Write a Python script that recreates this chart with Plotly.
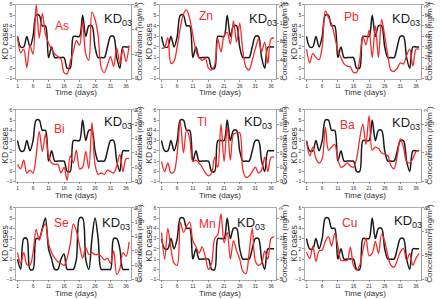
import plotly.graph_objects as go

days = list(range(1, 38))
x_tick_vals = [1, 6, 11, 16, 21, 26, 31, 36]

# KD cases (KD03) - black line, left axis
kd03 = [3, 2, 2, 3, 2, 3, 5, 5, 4, 4, 1, 2, 1, 1, 1, 1, 0, 0, 3, 3,
        3, 5, 3, 4, 4, 2, 1, 1, 1, 2, 3, 3, 1, 0, 2, 2, 2]
kd03_se = [1, 0, 3, 3, 0, 0, 3, 3, 4, 5, 2, 1, 0, 0, 1, 1.5, 0, 0, 0, 1,
           5, 5, 1, 0, 3, 5, 3, 0, 0, 0, 0, 3, 3, 2, 0, 0, 0]

# Concentrations (ng/m3) - red line, right axis
as_conc = [3.4, 2.1, 2.4, 0.9, 2.7, 2.0, 6.0, 3.3, 5.3, 3.6, 2.9, 2.4, 2.0, 1.8, 1.6, 0.5, 0.4, 1.4, 2.2, 3.1,
           2.7, 4.6, 2.0, 1.5, 5.4, 4.8, 3.5, 0.9, 0.5, 1.1, 1.8, 1.0, 2.5, 1.2, 2.4, 1.4, 2.7]
zn_conc = [65, 68, 89, 33, 38, 70, 110, 140, 148, 130, 95, 60, 45, 40, 44, 23, 19, 30, 86, 58,
           93, 100, 75, 125, 79, 120, 60, 25, 19, 40, 65, 86, 58, 79, 33, 86, 88]
pb_conc = [28, 15, 24, 20, 18, 30, 64, 58, 52, 40, 27, 20, 14, 12, 11, 6, 6, 18, 40, 32,
           46, 20, 50, 20, 56, 40, 22, 8, 7, 10, 15, 14, 22, 28, 12, 28, 28]
bi_conc = [0.6, 0.45, 0.75, 0.3, 0.4, 0.3, 0.9, 1.75, 1.05, 1.65, 0.9, 0.65, 0.6, 0.6, 0.3, 0.5, 0.05, 0.9, 0.65, 1.1,
           0.45, 0.5, 1.05, 0.45, 2.05, 0.6, 0.25, 0.3, 0.25, 0.4, 0.35, 0.3, 0.55, 0.95, 0.35, 0.8, 0.8]
tl_conc = [0.14, 0.07, 0.13, 0.06, 0.07, 0.2, 0.42, 0.2, 0.36, 0.3, 0.14, 0.15, 0.13, 0.1, 0.06, 0.04, 0.06, 0.17, 0.1, 0.4,
           0.14, 0.38, 0.15, 0.33, 0.34, 0.34, 0.08, 0.03, 0.04, 0.07, 0.1, 0.06, 0.08, 0.17, 0.07, 0.17, 0.17]
ba_conc = [14, 9, 12, 8, 6.5, 8, 19, 11, 12, 13, 8, 5, 5.5, 6.5, 5.5, 5, 8, 15, 20, 13,
           23, 11, 12, 11.5, 10, 9.5, 9, 5.5, 4.5, 9, 15, 12, 7, 6.5, 8, 10.5, 11]
se_conc = [0.75, 0.45, 0.75, 0.42, 0.4, 0.75, 1.4, 1.1, 1.4, 1.55, 1.0, 0.75, 0.6, 0.5, 0.45, 0.4, 0.6, 1.0, 1.55, 1.35,
           0.95, 0.6, 0.9, 0.7, 0.75, 0.7, 0.7, 0.65, 0.55, 0.6, 0.45, 0.8, 0.15, 0.3, 0.75, 0.65, 1.05]
mn_conc = [28, 15, 30, 20, 13, 12, 33, 28, 31, 33, 24, 21, 18, 21, 16, 10, 13, 25, 27, 37,
           23, 28, 15, 24, 19, 15, 9, 8, 18, 30, 14, 12, 13, 19, 15, 25, 26]
cu_conc = [5.8, 4.4, 7.0, 3.8, 6.0, 6.2, 8.0, 9.0, 7.0, 9.6, 7.0, 4.0, 4.0, 4.0, 6.8, 3.0, 2.0, 3.0, 6.0, 8.6,
           5.0, 5.5, 8.0, 5.5, 9.5, 8.0, 5.0, 3.0, 2.6, 4.0, 5.8, 6.5, 4.0, 5.5, 3.0, 4.5, 5.5]

elements = ["As", "Zn", "Pb", "Bi", "Tl", "Ba", "Se", "Mn", "Cu"]
conc_series = [as_conc, zn_conc, pb_conc, bi_conc, tl_conc, ba_conc, se_conc, mn_conc, cu_conc]
kd_series = [kd03, kd03, kd03, kd03, kd03, kd03, kd03_se, kd03, kd03]
right_ticks = [
    [0, 2, 4, 6],
    [0, 40, 80, 120, 160],
    [0, 10, 20, 30, 40, 50, 60, 70],
    [0.0, 0.5, 1.0, 1.5, 2.0, 2.5],
    [0.0, 0.1, 0.2, 0.3, 0.4, 0.5],
    [0, 10, 20],
    [0.0, 0.4, 0.8, 1.2, 1.6, 2.0],
    [5, 15, 25, 35],
    [0, 5, 10, 15],
]
right_ranges = [[0, 6], [0, 160], [0, 70], [0, 2.5], [0, 0.5], [0, 25], [0, 2.0], [5, 40], [0, 15]]
right_fmt = ["", "", "", ".1f", ".1f", "", ".1f", "", ""]

W, H = 440, 299
col_x = [(16, 131), (160, 276), (305, 421)]
row_y = [(1.7, 77.3), (109, 182.3), (209, 282.3)]
el_off = [(37, 22), (37, 12), (37, 13), (36, 20), (35, 12), (33, 15), (36, 15), (37, 17), (35, 15)]
kd_off = [(86, 15), (87, 15), (85, 15), (86, 13), (82, 13), (85, 14), (84, 16), (75, 16), (87, 14)]

FONT = "Arial, Liberation Sans, sans-serif"
BLACK = "#1a1a1a"
RED = "#f42a2a"
AX = "#9a9a9a"

fig = go.Figure()
layout = dict(width=W, height=H, margin=dict(l=0, r=0, t=0, b=0), autosize=False,
              paper_bgcolor="white", plot_bgcolor="white", showlegend=False,
              font=dict(family=FONT, color="#333"))
annotations = []

def px(x):
    return x / W

def py(y):
    return 1 - y / H

for i in range(9):
    r, c = divmod(i, 3)
    x0, x1 = col_x[c]
    y0, y1 = row_y[r]
    k = i + 1
    xa = "x" if k == 1 else f"x{k}"
    yl_n = 2 * i + 1
    yr_n = 2 * i + 2
    yl = "y" if yl_n == 1 else f"y{yl_n}"
    yr = f"y{yr_n}"
    xkey = "xaxis" if k == 1 else f"xaxis{k}"
    ylkey = "yaxis" if yl_n == 1 else f"yaxis{yl_n}"
    yrkey = f"yaxis{yr_n}"

    fig.add_trace(go.Scatter(x=days, y=kd_series[i], mode="lines", xaxis=xa, yaxis=yl,
                             line=dict(color=BLACK, width=1.5, shape="spline", smoothing=0.9),
                             hoverinfo="skip"))
    fig.add_trace(go.Scatter(x=days, y=conc_series[i], mode="lines", xaxis=xa, yaxis=yr,
                             line=dict(color=RED, width=1.3, shape="spline", smoothing=0.9),
                             hoverinfo="skip"))

    common = dict(showline=True, linecolor=AX, linewidth=0.8, ticks="outside", ticklen=2,
                  tickwidth=0.6, tickcolor="#555", showgrid=False, zeroline=False,
                  tickfont=dict(size=5, color="#333", family=FONT))
    layout[xkey] = dict(domain=[px(x0), px(x1)], anchor=yl, range=[0.5, 37.6],
                        tickvals=x_tick_vals, mirror=True, **common)
    layout[ylkey] = dict(domain=[py(y1), py(y0)], anchor=xa, range=[-1, 6],
                         tickvals=[-1, 0, 1, 2, 3, 4, 5, 6], mirror=True, **common)
    layout[yrkey] = dict(overlaying=yl, side="right", anchor=xa, range=right_ranges[i],
                         tickvals=right_ticks[i], tickformat=right_fmt[i], **common)

    ex, ey = el_off[i]
    annotations.append(dict(x=px(x0 + ex), y=py(y0 + ey), xref="paper", yref="paper",
                            text=elements[i], showarrow=False, xanchor="left", yanchor="middle",
                            font=dict(size=12, color=RED, family=FONT)))
    kx, ky = kd_off[i]
    annotations.append(dict(x=px(x0 + kx), y=py(y0 + ky), xref="paper", yref="paper",
                            text="KD<sub>03</sub>", showarrow=False, xanchor="left", yanchor="middle",
                            font=dict(size=13, color=BLACK, family=FONT)))
    annotations.append(dict(x=px(x0 - 11), y=py((y0 + y1) / 2), xref="paper", yref="paper",
                            text="KD cases", textangle=-90, showarrow=False,
                            xanchor="center", yanchor="middle",
                            font=dict(size=8.5, color="#333", family=FONT)))
    annotations.append(dict(x=px(x1 + 7), y=py((y0 + y1) / 2), xref="paper", yref="paper",
                            text="Concentration (ng/m<sup>3</sup>)", textangle=-90, showarrow=False,
                            xanchor="center", yanchor="middle",
                            font=dict(size=8, color="#333", family=FONT)))
    annotations.append(dict(x=px((x0 + x1) / 2 + 2), y=py(y1 + 14.5), xref="paper", yref="paper",
                            text="Time (days)", showarrow=False, xanchor="center", yanchor="middle",
                            font=dict(size=8, color="#333", family=FONT)))

layout["annotations"] = annotations
fig.update_layout(**layout)
fig.write_html("out.html", config={"displayModeBar": False, "staticPlot": True},
               post_script="document.body.style.margin='0px';document.body.style.padding='0px';")
